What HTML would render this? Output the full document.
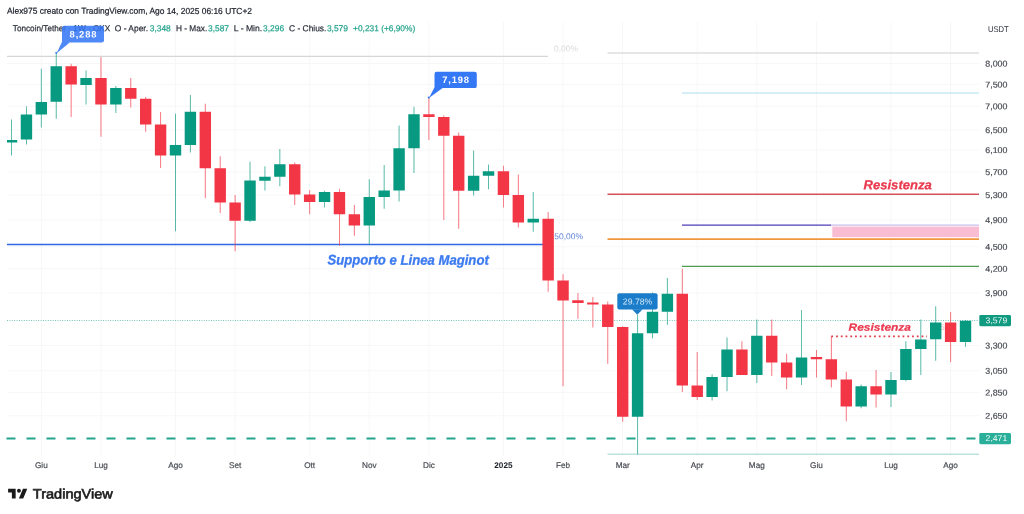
<!DOCTYPE html>
<html lang="it"><head><meta charset="utf-8"><title>TONUSDT - TradingView</title>
<style>html,body{margin:0;padding:0;background:#fff}body{width:1024px;height:514px;overflow:hidden}svg{display:block}text{font-family:"Liberation Sans",sans-serif}</style>
</head><body>
<svg width="1024" height="514" viewBox="0 0 1024 514">
<rect width="1024" height="514" fill="#fff"/>
<g stroke="#f7f7f7" stroke-width="1" fill="none">
<line x1="41.34" y1="22" x2="41.34" y2="456"/>
<line x1="100.97" y1="22" x2="100.97" y2="456"/>
<line x1="175.50" y1="22" x2="175.50" y2="456"/>
<line x1="235.12" y1="22" x2="235.12" y2="456"/>
<line x1="309.65" y1="22" x2="309.65" y2="456"/>
<line x1="369.27" y1="22" x2="369.27" y2="456"/>
<line x1="428.90" y1="22" x2="428.90" y2="456"/>
<line x1="503.43" y1="22" x2="503.43" y2="456"/>
<line x1="563.05" y1="22" x2="563.05" y2="456"/>
<line x1="622.68" y1="22" x2="622.68" y2="456"/>
<line x1="697.21" y1="22" x2="697.21" y2="456"/>
<line x1="756.83" y1="22" x2="756.83" y2="456"/>
<line x1="816.45" y1="22" x2="816.45" y2="456"/>
<line x1="890.98" y1="22" x2="890.98" y2="456"/>
<line x1="950.61" y1="22" x2="950.61" y2="456"/>
<line x1="7" y1="63.5" x2="979" y2="63.5"/>
<line x1="7" y1="84.5" x2="979" y2="84.5"/>
<line x1="7" y1="106.25" x2="979" y2="106.25"/>
<line x1="7" y1="130" x2="979" y2="130"/>
<line x1="7" y1="150" x2="979" y2="150"/>
<line x1="7" y1="172" x2="979" y2="172"/>
<line x1="7" y1="195" x2="979" y2="195"/>
<line x1="7" y1="220" x2="979" y2="220"/>
<line x1="7" y1="246.75" x2="979" y2="246.75"/>
<line x1="7" y1="268.75" x2="979" y2="268.75"/>
<line x1="7" y1="293" x2="979" y2="293"/>
<line x1="7" y1="345.5" x2="979" y2="345.5"/>
<line x1="7" y1="370.75" x2="979" y2="370.75"/>
<line x1="7" y1="392.5" x2="979" y2="392.5"/>
<line x1="7" y1="415.75" x2="979" y2="415.75"/>
</g>
<line x1="7" y1="56.4" x2="548" y2="56.4" stroke="#d6d6d6" stroke-width="1.3"/>
<line x1="607.5" y1="53" x2="979" y2="53" stroke="#dedede" stroke-width="1.3"/>
<line x1="682" y1="93" x2="979" y2="93" stroke="#a9e0ef" stroke-width="1.2"/>
<line x1="607.5" y1="194.3" x2="979" y2="194.3" stroke="#d6505c" stroke-width="1.6"/>
<line x1="682" y1="225" x2="831" y2="225" stroke="#4d3fb8" stroke-width="1.25"/>
<line x1="831" y1="225" x2="979" y2="225" stroke="#c9bdea" stroke-width="1.25"/>
<rect x="832.3" y="226.6" width="146.7" height="10.6" fill="#f9bdd3"/>
<line x1="607.5" y1="239.1" x2="979" y2="239.1" stroke="#f0963c" stroke-width="1.6"/>
<line x1="682" y1="266.3" x2="979" y2="266.3" stroke="#4e9c50" stroke-width="1.3"/>
<line x1="607.5" y1="454.3" x2="979" y2="454.3" stroke="#bbe2de" stroke-width="1.4"/>
<line x1="7" y1="244.5" x2="548" y2="244.5" stroke="#3267e3" stroke-width="1.5"/>
<line x1="6.5" y1="438.4" x2="979" y2="438.4" stroke="#22a58c" stroke-width="2" stroke-dasharray="9 11"/>
<line x1="7" y1="320.5" x2="979" y2="320.5" stroke="#5fbcab" stroke-width="0.85" stroke-dasharray="1 1.4"/>
<text x="933" y="330" transform="rotate(0.03 933 330)" font-size="8.5" fill="#f6b5bb">3,536</text>
<g>
<line x1="11.53" y1="119.5" x2="11.53" y2="155.5" stroke="#089981" stroke-width="0.85" opacity="0.8"/>
<rect x="7.00" y="140.0" width="10.23" height="2.50" fill="#089981"/>
<line x1="26.44" y1="106.25" x2="26.44" y2="144.5" stroke="#089981" stroke-width="0.85" opacity="0.8"/>
<rect x="20.74" y="114.5" width="11.40" height="25.00" fill="#089981"/>
<line x1="41.34" y1="68.75" x2="41.34" y2="127.5" stroke="#089981" stroke-width="0.85" opacity="0.8"/>
<rect x="35.64" y="102.0" width="11.40" height="12.50" fill="#089981"/>
<line x1="56.25" y1="52.5" x2="56.25" y2="118.75" stroke="#089981" stroke-width="0.85" opacity="0.8"/>
<rect x="50.55" y="66.25" width="11.40" height="35.50" fill="#089981"/>
<line x1="71.15" y1="63.75" x2="71.15" y2="117.0" stroke="#f23645" stroke-width="0.85" opacity="0.8"/>
<rect x="65.45" y="66.25" width="11.40" height="18.25" fill="#f23645"/>
<line x1="86.06" y1="70.5" x2="86.06" y2="104.5" stroke="#089981" stroke-width="0.85" opacity="0.8"/>
<rect x="80.36" y="78.0" width="11.40" height="7.00" fill="#089981"/>
<line x1="100.97" y1="57.0" x2="100.97" y2="136.75" stroke="#f23645" stroke-width="0.85" opacity="0.8"/>
<rect x="95.27" y="78.0" width="11.40" height="26.50" fill="#f23645"/>
<line x1="115.87" y1="86.0" x2="115.87" y2="113.0" stroke="#089981" stroke-width="0.85" opacity="0.8"/>
<rect x="110.17" y="88.0" width="11.40" height="16.50" fill="#089981"/>
<line x1="130.78" y1="78.0" x2="130.78" y2="107.5" stroke="#f23645" stroke-width="0.85" opacity="0.8"/>
<rect x="125.08" y="88.0" width="11.40" height="10.75" fill="#f23645"/>
<line x1="145.68" y1="97.0" x2="145.68" y2="131.75" stroke="#f23645" stroke-width="0.85" opacity="0.8"/>
<rect x="139.98" y="98.75" width="11.40" height="25.75" fill="#f23645"/>
<line x1="160.59" y1="112.0" x2="160.59" y2="168.0" stroke="#f23645" stroke-width="0.85" opacity="0.8"/>
<rect x="154.89" y="124.5" width="11.40" height="31.00" fill="#f23645"/>
<line x1="175.50" y1="113.75" x2="175.50" y2="231.25" stroke="#089981" stroke-width="0.85" opacity="0.8"/>
<rect x="169.80" y="145.0" width="11.40" height="10.50" fill="#089981"/>
<line x1="190.40" y1="95.0" x2="190.40" y2="152.5" stroke="#089981" stroke-width="0.85" opacity="0.8"/>
<rect x="184.70" y="111.75" width="11.40" height="33.25" fill="#089981"/>
<line x1="205.31" y1="103.75" x2="205.31" y2="198.25" stroke="#f23645" stroke-width="0.85" opacity="0.8"/>
<rect x="199.61" y="111.75" width="11.40" height="56.50" fill="#f23645"/>
<line x1="220.21" y1="156.25" x2="220.21" y2="213.0" stroke="#f23645" stroke-width="0.85" opacity="0.8"/>
<rect x="214.51" y="168.25" width="11.40" height="34.25" fill="#f23645"/>
<line x1="235.12" y1="195.0" x2="235.12" y2="251.25" stroke="#f23645" stroke-width="0.85" opacity="0.8"/>
<rect x="229.42" y="202.5" width="11.40" height="18.25" fill="#f23645"/>
<line x1="250.03" y1="161.75" x2="250.03" y2="222.0" stroke="#089981" stroke-width="0.85" opacity="0.8"/>
<rect x="244.33" y="180.5" width="11.40" height="40.25" fill="#089981"/>
<line x1="264.93" y1="166.25" x2="264.93" y2="190.5" stroke="#089981" stroke-width="0.85" opacity="0.8"/>
<rect x="259.23" y="176.75" width="11.40" height="4.00" fill="#089981"/>
<line x1="279.84" y1="149.0" x2="279.84" y2="186.25" stroke="#089981" stroke-width="0.85" opacity="0.8"/>
<rect x="274.14" y="164.25" width="11.40" height="12.50" fill="#089981"/>
<line x1="294.74" y1="162.5" x2="294.74" y2="205.0" stroke="#f23645" stroke-width="0.85" opacity="0.8"/>
<rect x="289.04" y="164.25" width="11.40" height="30.25" fill="#f23645"/>
<line x1="309.65" y1="190.0" x2="309.65" y2="214.25" stroke="#f23645" stroke-width="0.85" opacity="0.8"/>
<rect x="303.95" y="194.5" width="11.40" height="7.50" fill="#f23645"/>
<line x1="324.56" y1="190.75" x2="324.56" y2="207.5" stroke="#089981" stroke-width="0.85" opacity="0.8"/>
<rect x="318.86" y="192.0" width="11.40" height="10.00" fill="#089981"/>
<line x1="339.46" y1="188.75" x2="339.46" y2="245.75" stroke="#f23645" stroke-width="0.85" opacity="0.8"/>
<rect x="333.76" y="192.0" width="11.40" height="22.25" fill="#f23645"/>
<line x1="354.37" y1="205.0" x2="354.37" y2="235.75" stroke="#f23645" stroke-width="0.85" opacity="0.8"/>
<rect x="348.67" y="214.25" width="11.40" height="11.25" fill="#f23645"/>
<line x1="369.27" y1="179.25" x2="369.27" y2="244.5" stroke="#089981" stroke-width="0.85" opacity="0.8"/>
<rect x="363.57" y="197.0" width="11.40" height="28.50" fill="#089981"/>
<line x1="384.18" y1="165.0" x2="384.18" y2="208.75" stroke="#089981" stroke-width="0.85" opacity="0.8"/>
<rect x="378.48" y="190.5" width="11.40" height="6.50" fill="#089981"/>
<line x1="399.09" y1="125.5" x2="399.09" y2="201.5" stroke="#089981" stroke-width="0.85" opacity="0.8"/>
<rect x="393.39" y="148.25" width="11.40" height="42.25" fill="#089981"/>
<line x1="413.99" y1="106.75" x2="413.99" y2="173.0" stroke="#089981" stroke-width="0.85" opacity="0.8"/>
<rect x="408.29" y="114.25" width="11.40" height="34.00" fill="#089981"/>
<line x1="428.90" y1="97.5" x2="428.90" y2="140.0" stroke="#f23645" stroke-width="0.85" opacity="0.8"/>
<rect x="423.20" y="114.25" width="11.40" height="2.75" fill="#f23645"/>
<line x1="443.80" y1="115.5" x2="443.80" y2="220.0" stroke="#f23645" stroke-width="0.85" opacity="0.8"/>
<rect x="438.10" y="117.0" width="11.40" height="18.75" fill="#f23645"/>
<line x1="458.71" y1="132.5" x2="458.71" y2="228.75" stroke="#f23645" stroke-width="0.85" opacity="0.8"/>
<rect x="453.01" y="135.75" width="11.40" height="55.00" fill="#f23645"/>
<line x1="473.62" y1="150.5" x2="473.62" y2="195.5" stroke="#089981" stroke-width="0.85" opacity="0.8"/>
<rect x="467.92" y="175.75" width="11.40" height="15.00" fill="#089981"/>
<line x1="488.52" y1="164.5" x2="488.52" y2="189.25" stroke="#089981" stroke-width="0.85" opacity="0.8"/>
<rect x="482.82" y="171.25" width="11.40" height="4.50" fill="#089981"/>
<line x1="503.43" y1="165.75" x2="503.43" y2="207.5" stroke="#f23645" stroke-width="0.85" opacity="0.8"/>
<rect x="497.73" y="171.25" width="11.40" height="23.75" fill="#f23645"/>
<line x1="518.33" y1="174.5" x2="518.33" y2="227.5" stroke="#f23645" stroke-width="0.85" opacity="0.8"/>
<rect x="512.63" y="195.0" width="11.40" height="27.50" fill="#f23645"/>
<line x1="533.24" y1="192.0" x2="533.24" y2="231.75" stroke="#089981" stroke-width="0.85" opacity="0.8"/>
<rect x="527.54" y="218.75" width="11.40" height="3.75" fill="#089981"/>
<line x1="548.15" y1="212.0" x2="548.15" y2="291.75" stroke="#f23645" stroke-width="0.85" opacity="0.8"/>
<rect x="542.45" y="218.75" width="11.40" height="61.75" fill="#f23645"/>
<line x1="563.05" y1="274.25" x2="563.05" y2="386.25" stroke="#f23645" stroke-width="0.85" opacity="0.8"/>
<rect x="557.35" y="280.5" width="11.40" height="20.00" fill="#f23645"/>
<line x1="577.96" y1="293.0" x2="577.96" y2="318.75" stroke="#f23645" stroke-width="0.85" opacity="0.8"/>
<rect x="572.26" y="300.25" width="11.40" height="2.75" fill="#f23645"/>
<line x1="592.86" y1="297.0" x2="592.86" y2="327.5" stroke="#f23645" stroke-width="0.85" opacity="0.8"/>
<rect x="587.16" y="302.5" width="11.40" height="2.00" fill="#f23645"/>
<line x1="607.77" y1="301.5" x2="607.77" y2="363.75" stroke="#f23645" stroke-width="0.85" opacity="0.8"/>
<rect x="602.07" y="304.5" width="11.40" height="22.50" fill="#f23645"/>
<line x1="622.68" y1="326.25" x2="622.68" y2="421.75" stroke="#f23645" stroke-width="0.85" opacity="0.8"/>
<rect x="616.98" y="327.0" width="11.40" height="89.75" fill="#f23645"/>
<line x1="637.58" y1="315.0" x2="637.58" y2="454.25" stroke="#089981" stroke-width="0.85" opacity="0.8"/>
<rect x="631.88" y="333.25" width="11.40" height="83.50" fill="#089981"/>
<line x1="652.49" y1="292.5" x2="652.49" y2="338.25" stroke="#089981" stroke-width="0.85" opacity="0.8"/>
<rect x="646.79" y="311.75" width="11.40" height="21.50" fill="#089981"/>
<line x1="667.39" y1="278.0" x2="667.39" y2="324.75" stroke="#089981" stroke-width="0.85" opacity="0.8"/>
<rect x="661.69" y="293.75" width="11.40" height="18.00" fill="#089981"/>
<line x1="682.30" y1="268.75" x2="682.30" y2="392.0" stroke="#f23645" stroke-width="0.85" opacity="0.8"/>
<rect x="676.60" y="293.75" width="11.40" height="91.75" fill="#f23645"/>
<line x1="697.21" y1="352.0" x2="697.21" y2="400.0" stroke="#f23645" stroke-width="0.85" opacity="0.8"/>
<rect x="691.51" y="385.5" width="11.40" height="11.50" fill="#f23645"/>
<line x1="712.11" y1="374.25" x2="712.11" y2="400.5" stroke="#089981" stroke-width="0.85" opacity="0.8"/>
<rect x="706.41" y="377.0" width="11.40" height="20.00" fill="#089981"/>
<line x1="727.02" y1="337.5" x2="727.02" y2="391.25" stroke="#089981" stroke-width="0.85" opacity="0.8"/>
<rect x="721.32" y="349.5" width="11.40" height="27.50" fill="#089981"/>
<line x1="741.92" y1="341.25" x2="741.92" y2="375.0" stroke="#f23645" stroke-width="0.85" opacity="0.8"/>
<rect x="736.22" y="349.5" width="11.40" height="25.50" fill="#f23645"/>
<line x1="756.83" y1="319.5" x2="756.83" y2="383.0" stroke="#089981" stroke-width="0.85" opacity="0.8"/>
<rect x="751.13" y="335.75" width="11.40" height="39.25" fill="#089981"/>
<line x1="771.74" y1="319.5" x2="771.74" y2="376.0" stroke="#f23645" stroke-width="0.85" opacity="0.8"/>
<rect x="766.04" y="335.75" width="11.40" height="26.75" fill="#f23645"/>
<line x1="786.64" y1="353.75" x2="786.64" y2="389.25" stroke="#f23645" stroke-width="0.85" opacity="0.8"/>
<rect x="780.94" y="362.5" width="11.40" height="15.00" fill="#f23645"/>
<line x1="801.55" y1="310.0" x2="801.55" y2="385.0" stroke="#089981" stroke-width="0.85" opacity="0.8"/>
<rect x="795.85" y="357.5" width="11.40" height="20.00" fill="#089981"/>
<line x1="816.45" y1="350.0" x2="816.45" y2="377.5" stroke="#f23645" stroke-width="0.85" opacity="0.8"/>
<rect x="810.75" y="357.0" width="11.40" height="2.25" fill="#f23645"/>
<line x1="831.36" y1="336.25" x2="831.36" y2="387.5" stroke="#f23645" stroke-width="0.85" opacity="0.8"/>
<rect x="825.66" y="359.25" width="11.40" height="20.25" fill="#f23645"/>
<line x1="846.27" y1="371.75" x2="846.27" y2="421.25" stroke="#f23645" stroke-width="0.85" opacity="0.8"/>
<rect x="840.57" y="379.5" width="11.40" height="27.00" fill="#f23645"/>
<line x1="861.17" y1="384.5" x2="861.17" y2="408.25" stroke="#089981" stroke-width="0.85" opacity="0.8"/>
<rect x="855.47" y="386.25" width="11.40" height="20.25" fill="#089981"/>
<line x1="876.08" y1="370.0" x2="876.08" y2="407.5" stroke="#f23645" stroke-width="0.85" opacity="0.8"/>
<rect x="870.38" y="386.25" width="11.40" height="8.25" fill="#f23645"/>
<line x1="890.98" y1="372.0" x2="890.98" y2="407.0" stroke="#089981" stroke-width="0.85" opacity="0.8"/>
<rect x="885.28" y="380.0" width="11.40" height="14.50" fill="#089981"/>
<line x1="905.89" y1="341.25" x2="905.89" y2="381.25" stroke="#089981" stroke-width="0.85" opacity="0.8"/>
<rect x="900.19" y="349.0" width="11.40" height="31.00" fill="#089981"/>
<line x1="920.80" y1="319.5" x2="920.80" y2="375.0" stroke="#089981" stroke-width="0.85" opacity="0.8"/>
<rect x="915.10" y="339.5" width="11.40" height="9.50" fill="#089981"/>
<line x1="935.70" y1="306.25" x2="935.70" y2="360.75" stroke="#089981" stroke-width="0.85" opacity="0.8"/>
<rect x="930.00" y="322.5" width="11.40" height="16.75" fill="#089981"/>
<line x1="950.61" y1="312.0" x2="950.61" y2="362.0" stroke="#f23645" stroke-width="0.85" opacity="0.8"/>
<rect x="944.91" y="322.5" width="11.40" height="19.50" fill="#f23645"/>
<line x1="965.51" y1="320.0" x2="965.51" y2="346.75" stroke="#089981" stroke-width="0.85" opacity="0.8"/>
<rect x="959.81" y="320.75" width="11.40" height="21.25" fill="#089981"/>
</g>
<line x1="831.3" y1="336.3" x2="927" y2="336.3" stroke="#e23b4c" stroke-width="1.8" stroke-dasharray="1.8 2.95" />
<text x="7" y="13.8" transform="rotate(0.03 7 13.8)" font-size="8.67" fill="#1e222d" stroke="#1e222d" stroke-width="0.22" textLength="245" lengthAdjust="spacingAndGlyphs">Alex975 creato con TradingView.com, Ago 14, 2025 06:16 UTC+2</text>
<text x="12.8" y="31.3" transform="rotate(0.03 12.8 31.3)" font-size="8.67" fill="#2a2e39" stroke="#2a2e39" stroke-width="0.2" textLength="97.4" lengthAdjust="spacingAndGlyphs">Toncoin/Tether · 1W · OKX</text>
<text x="114.8" y="31.3" transform="rotate(0.03 114.8 31.3)" font-size="8.67" fill="#2a2e39" stroke="#2a2e39" stroke-width="0.2" textLength="33.2" lengthAdjust="spacingAndGlyphs">O - Aper.</text>
<text x="149.7" y="31.3" transform="rotate(0.03 149.7 31.3)" font-size="8.67" fill="#22a38b" stroke="#22a38b" stroke-width="0.2" textLength="21.1" lengthAdjust="spacingAndGlyphs">3,348</text>
<text x="175.9" y="31.3" transform="rotate(0.03 175.9 31.3)" font-size="8.67" fill="#2a2e39" stroke="#2a2e39" stroke-width="0.2" textLength="31.3" lengthAdjust="spacingAndGlyphs">H - Max.</text>
<text x="208" y="31.3" transform="rotate(0.03 208 31.3)" font-size="8.67" fill="#22a38b" stroke="#22a38b" stroke-width="0.2" textLength="21" lengthAdjust="spacingAndGlyphs">3,587</text>
<text x="233.75" y="31.3" transform="rotate(0.03 233.75 31.3)" font-size="8.67" fill="#2a2e39" stroke="#2a2e39" stroke-width="0.2" textLength="28.5" lengthAdjust="spacingAndGlyphs">L - Min.</text>
<text x="263.1" y="31.3" transform="rotate(0.03 263.1 31.3)" font-size="8.67" fill="#22a38b" stroke="#22a38b" stroke-width="0.2" textLength="21" lengthAdjust="spacingAndGlyphs">3,296</text>
<text x="289" y="31.3" transform="rotate(0.03 289 31.3)" font-size="8.67" fill="#2a2e39" stroke="#2a2e39" stroke-width="0.2" textLength="37.4" lengthAdjust="spacingAndGlyphs">C - Chius.</text>
<text x="326.9" y="31.3" transform="rotate(0.03 326.9 31.3)" font-size="8.67" fill="#22a38b" stroke="#22a38b" stroke-width="0.2" textLength="21.1" lengthAdjust="spacingAndGlyphs">3,579</text>
<text x="353.1" y="31.3" transform="rotate(0.03 353.1 31.3)" font-size="8.67" fill="#22a38b" stroke="#22a38b" stroke-width="0.2" textLength="62.1" lengthAdjust="spacingAndGlyphs">+0,231 (+6,90%)</text>
<g fill="#3578f6" opacity="0.87"><rect x="62" y="25.8" width="42" height="16.7" rx="2.2"/><path d="M62.4 41L69.8 42.5L56.6 53.2Z"/><circle cx="56.3" cy="52.8" r="1.1"/></g>
<text x="83" y="37.6" transform="rotate(0.03 83 37.6)" font-size="9.4" font-weight="bold" fill="#fff" text-anchor="middle" textLength="26.8" lengthAdjust="spacing">8,288</text>
<g fill="#3578f6"><rect x="434.5" y="71.7" width="42.3" height="16.4" rx="2.2"/><path d="M434.9 86.5L442.6 88L429 97.9Z"/><circle cx="428.8" cy="97.5" r="1.1"/></g>
<text x="455.6" y="83.1" transform="rotate(0.03 455.6 83.1)" font-size="9.4" font-weight="bold" fill="#fff" text-anchor="middle" textLength="26.8" lengthAdjust="spacing">7,198</text>
<g fill="#1b7dc9"><rect x="617.3" y="293.2" width="40.3" height="16.2" rx="2"/><path d="M632 309.2H642.6L637.3 314.8Z"/></g>
<text x="637.6" y="304.4" transform="rotate(0.03 637.6 304.4)" font-size="8.67" fill="#d3e7f7" text-anchor="middle" textLength="29.5" lengthAdjust="spacingAndGlyphs">29.78%</text>
<text x="554" y="51.4" transform="rotate(0.03 554 51.4)" font-size="8.5" fill="#dadada" textLength="24" lengthAdjust="spacingAndGlyphs">0,00%</text>
<text x="554.3" y="239.3" transform="rotate(0.03 554.3 239.3)" font-size="8.5" fill="#6184dc" textLength="28.7" lengthAdjust="spacingAndGlyphs">50,00%</text>
<text x="327.5" y="264.6" transform="rotate(0.03 327.5 264.6)" font-size="14" font-weight="bold" font-style="italic" fill="#3b7af0" stroke="#3b7af0" stroke-width="0.3" textLength="161.3" lengthAdjust="spacingAndGlyphs">Supporto e Linea Maginot</text>
<text x="863.5" y="189.3" transform="rotate(0.03 863.5 189.3)" font-size="13" font-weight="bold" font-style="italic" fill="#ea384d" stroke="#ea384d" stroke-width="0.25" textLength="68.3" lengthAdjust="spacingAndGlyphs">Resistenza</text>
<text x="848.5" y="330.8" transform="rotate(0.03 848.5 330.8)" font-size="10.6" font-weight="bold" font-style="italic" fill="#ea384d" stroke="#ea384d" stroke-width="0.2" textLength="62.5" lengthAdjust="spacingAndGlyphs">Resistenza</text>
<text x="988" y="32.1" transform="rotate(0.03 988 32.1)" font-size="8.4" fill="#2a2e39" textLength="20.8" lengthAdjust="spacingAndGlyphs">USDT</text>
<text x="985.3" y="66.40" transform="rotate(0.03 985.3 66.40)" font-size="8.4" fill="#4a4d55" stroke="#4a4d55" stroke-width="0.2" textLength="22.2" lengthAdjust="spacingAndGlyphs">8,000</text>
<text x="985.3" y="87.40" transform="rotate(0.03 985.3 87.40)" font-size="8.4" fill="#4a4d55" stroke="#4a4d55" stroke-width="0.2" textLength="22.2" lengthAdjust="spacingAndGlyphs">7,500</text>
<text x="985.3" y="109.15" transform="rotate(0.03 985.3 109.15)" font-size="8.4" fill="#4a4d55" stroke="#4a4d55" stroke-width="0.2" textLength="22.2" lengthAdjust="spacingAndGlyphs">7,000</text>
<text x="985.3" y="132.90" transform="rotate(0.03 985.3 132.90)" font-size="8.4" fill="#4a4d55" stroke="#4a4d55" stroke-width="0.2" textLength="22.2" lengthAdjust="spacingAndGlyphs">6,500</text>
<text x="985.3" y="152.90" transform="rotate(0.03 985.3 152.90)" font-size="8.4" fill="#4a4d55" stroke="#4a4d55" stroke-width="0.2" textLength="22.2" lengthAdjust="spacingAndGlyphs">6,100</text>
<text x="985.3" y="174.90" transform="rotate(0.03 985.3 174.90)" font-size="8.4" fill="#4a4d55" stroke="#4a4d55" stroke-width="0.2" textLength="22.2" lengthAdjust="spacingAndGlyphs">5,700</text>
<text x="985.3" y="197.90" transform="rotate(0.03 985.3 197.90)" font-size="8.4" fill="#4a4d55" stroke="#4a4d55" stroke-width="0.2" textLength="22.2" lengthAdjust="spacingAndGlyphs">5,300</text>
<text x="985.3" y="222.90" transform="rotate(0.03 985.3 222.90)" font-size="8.4" fill="#4a4d55" stroke="#4a4d55" stroke-width="0.2" textLength="22.2" lengthAdjust="spacingAndGlyphs">4,900</text>
<text x="985.3" y="249.65" transform="rotate(0.03 985.3 249.65)" font-size="8.4" fill="#4a4d55" stroke="#4a4d55" stroke-width="0.2" textLength="22.2" lengthAdjust="spacingAndGlyphs">4,500</text>
<text x="985.3" y="271.65" transform="rotate(0.03 985.3 271.65)" font-size="8.4" fill="#4a4d55" stroke="#4a4d55" stroke-width="0.2" textLength="22.2" lengthAdjust="spacingAndGlyphs">4,200</text>
<text x="985.3" y="295.90" transform="rotate(0.03 985.3 295.90)" font-size="8.4" fill="#4a4d55" stroke="#4a4d55" stroke-width="0.2" textLength="22.2" lengthAdjust="spacingAndGlyphs">3,900</text>
<text x="985.3" y="348.40" transform="rotate(0.03 985.3 348.40)" font-size="8.4" fill="#4a4d55" stroke="#4a4d55" stroke-width="0.2" textLength="22.2" lengthAdjust="spacingAndGlyphs">3,300</text>
<text x="985.3" y="373.65" transform="rotate(0.03 985.3 373.65)" font-size="8.4" fill="#4a4d55" stroke="#4a4d55" stroke-width="0.2" textLength="22.2" lengthAdjust="spacingAndGlyphs">3,050</text>
<text x="985.3" y="395.40" transform="rotate(0.03 985.3 395.40)" font-size="8.4" fill="#4a4d55" stroke="#4a4d55" stroke-width="0.2" textLength="22.2" lengthAdjust="spacingAndGlyphs">2,850</text>
<text x="985.3" y="418.65" transform="rotate(0.03 985.3 418.65)" font-size="8.4" fill="#4a4d55" stroke="#4a4d55" stroke-width="0.2" textLength="22.2" lengthAdjust="spacingAndGlyphs">2,650</text>
<rect x="979.3" y="315" width="31.7" height="11.2" rx="1.4" fill="#109a80"/>
<text x="985.6" y="323.2" transform="rotate(0.03 985.6 323.2)" font-size="8.4" fill="#f2fbf9" textLength="21.6" lengthAdjust="spacingAndGlyphs">3,579</text>
<rect x="979.3" y="433" width="31.7" height="11.2" rx="1.4" fill="#2ab09a"/>
<text x="985.6" y="441.1" transform="rotate(0.03 985.6 441.1)" font-size="8.4" fill="#f2fbf9" textLength="21.6" lengthAdjust="spacingAndGlyphs">2,471</text>
<text x="41.34" y="468.1" transform="rotate(0.03 41.34 468.1)" font-size="8.2" text-anchor="middle" fill="#4a4d55" stroke="#4a4d55" stroke-width="0.2">Giu</text>
<text x="100.97" y="468.1" transform="rotate(0.03 100.97 468.1)" font-size="8.2" text-anchor="middle" fill="#4a4d55" stroke="#4a4d55" stroke-width="0.2">Lug</text>
<text x="175.50" y="468.1" transform="rotate(0.03 175.50 468.1)" font-size="8.2" text-anchor="middle" fill="#4a4d55" stroke="#4a4d55" stroke-width="0.2">Ago</text>
<text x="235.12" y="468.1" transform="rotate(0.03 235.12 468.1)" font-size="8.2" text-anchor="middle" fill="#4a4d55" stroke="#4a4d55" stroke-width="0.2">Set</text>
<text x="309.65" y="468.1" transform="rotate(0.03 309.65 468.1)" font-size="8.2" text-anchor="middle" fill="#4a4d55" stroke="#4a4d55" stroke-width="0.2">Ott</text>
<text x="369.27" y="468.1" transform="rotate(0.03 369.27 468.1)" font-size="8.2" text-anchor="middle" fill="#4a4d55" stroke="#4a4d55" stroke-width="0.2">Nov</text>
<text x="428.90" y="468.1" transform="rotate(0.03 428.90 468.1)" font-size="8.2" text-anchor="middle" fill="#4a4d55" stroke="#4a4d55" stroke-width="0.2">Dic</text>
<text x="503.43" y="468.1" transform="rotate(0.03 503.43 468.1)" font-size="8.2" text-anchor="middle" font-weight="bold" fill="#22252e">2025</text>
<text x="563.05" y="468.1" transform="rotate(0.03 563.05 468.1)" font-size="8.2" text-anchor="middle" fill="#4a4d55" stroke="#4a4d55" stroke-width="0.2">Feb</text>
<text x="622.68" y="468.1" transform="rotate(0.03 622.68 468.1)" font-size="8.2" text-anchor="middle" fill="#4a4d55" stroke="#4a4d55" stroke-width="0.2">Mar</text>
<text x="697.21" y="468.1" transform="rotate(0.03 697.21 468.1)" font-size="8.2" text-anchor="middle" fill="#4a4d55" stroke="#4a4d55" stroke-width="0.2">Apr</text>
<text x="756.83" y="468.1" transform="rotate(0.03 756.83 468.1)" font-size="8.2" text-anchor="middle" fill="#4a4d55" stroke="#4a4d55" stroke-width="0.2">Mag</text>
<text x="816.45" y="468.1" transform="rotate(0.03 816.45 468.1)" font-size="8.2" text-anchor="middle" fill="#4a4d55" stroke="#4a4d55" stroke-width="0.2">Giu</text>
<text x="890.98" y="468.1" transform="rotate(0.03 890.98 468.1)" font-size="8.2" text-anchor="middle" fill="#4a4d55" stroke="#4a4d55" stroke-width="0.2">Lug</text>
<text x="950.61" y="468.1" transform="rotate(0.03 950.61 468.1)" font-size="8.2" text-anchor="middle" fill="#4a4d55" stroke="#4a4d55" stroke-width="0.2">Ago</text>
<g fill="#1a1a1a"><path transform="translate(8.1 486.6) scale(0.54)" d="M14 22H7V11H0V4h14v18zM28 22h-8l7.5-18h8L28 22z"/><circle cx="18.95" cy="490.75" r="1.95"/></g>
<text x="32.8" y="498.5" transform="rotate(0.03 32.8 498.5)" font-size="13.6" fill="#1a1a1a" stroke="#1a1a1a" stroke-width="0.6" textLength="80" lengthAdjust="spacingAndGlyphs">TradingView</text>
</svg>
</body></html>
